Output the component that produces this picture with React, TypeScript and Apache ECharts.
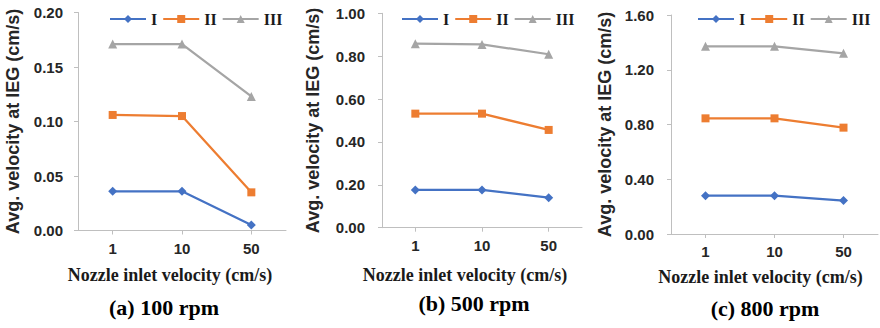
import React, { useEffect, useRef } from "react";
import * as echarts from "echarts";

const categories = ["1", "10", "50"];
const seriesNames = ["I", "II", "III"];

// Panel (a) 100 rpm
const a_I = [0.036, 0.036, 0.005];
const a_II = [0.106, 0.105, 0.035];
const a_III = [0.171, 0.171, 0.123];
// Panel (b) 500 rpm
const b_I = [0.176, 0.176, 0.14];
const b_II = [0.532, 0.532, 0.456];
const b_III = [0.858, 0.855, 0.809];
// Panel (c) 800 rpm
const c_I = [0.28, 0.28, 0.244];
const c_II = [0.845, 0.845, 0.777];
const c_III = [1.371, 1.371, 1.32];

const yMax = [0.2, 1.0, 1.6];
const yInterval = [0.05, 0.2, 0.4];
const captions = ["(a) 100 rpm", "(b) 500 rpm", "(c) 800 rpm"];
const xName = "Nozzle inlet velocity (cm/s)";
const yName = "Avg. velocity at IEG (cm/s)";

const panelData = [
  [a_I, a_II, a_III],
  [b_I, b_II, b_III],
  [c_I, c_II, c_III],
];

const colors = ["#4472C4", "#ED7D31", "#A5A5A5"];
const symbols = ["diamond", "rect", "triangle"];
const symbolSizes = [9, 8, 9];

// layout per panel
const grids = [
  { left: 78, top: 12.5, width: 208, height: 218 },
  { left: 382, top: 13.3, width: 200, height: 214.4 },
  { left: 671, top: 15, width: 207, height: 219 },
];
const yNameGap = [56, 60, 57];
const yLabelMargin = [15, 17, 17];
const xNameGap = [35, 38, 34];
const xNameShift = [12, 17, 14];
const legendLeft = [104, 396, 692];
const captionPos = [
  [164, 307],
  [474, 303],
  [765, 308],
];

const SANS = "'Liberation Sans', Arial, sans-serif";
const SERIF = "'Liberation Serif', 'Times New Roman', serif";

export default function App() {
  const ref = useRef<HTMLDivElement>(null);
  useEffect(() => {
    if (!ref.current) return;
    const chart = echarts.init(ref.current, undefined, { renderer: "svg" });

    const series: any[] = [];
    panelData.forEach((panel, p) => {
      panel.forEach((vals, s) => {
        series.push({
          type: "line",
          name: seriesNames[s],
          xAxisIndex: p,
          yAxisIndex: p,
          data: vals,
          symbol: symbols[s],
          symbolSize: symbolSizes[s],
          showAllSymbol: true,
          lineStyle: { color: colors[s], width: 2.25 },
          itemStyle: { color: colors[s] },
          emphasis: { disabled: true },
        });
      });
    });

    chart.setOption({
      animation: false,
      backgroundColor: "#ffffff",
      grid: grids.map((g) => ({ ...g, containLabel: false })),
      legend: legendLeft.map((l) => ({
        left: l,
        top: 6,
        width: 260,
        orient: "horizontal",
        data: seriesNames,
        itemWidth: 36,
        itemHeight: 10,
        itemGap: 5,
        selectedMode: false,
        textStyle: {
          fontFamily: SERIF,
          fontWeight: "bold",
          fontSize: 16,
          color: "#1a1a1a",
        },
      })),
      xAxis: grids.map((_, p) => ({
        type: "category",
        gridIndex: p,
        data: categories,
        boundaryGap: true,
        name: xName,
        nameLocation: "middle",
        nameGap: xNameGap[p],
        nameTextStyle: {
          fontFamily: SERIF,
          fontWeight: "bold",
          fontSize: 18,
          color: "#1a1a1a",
          padding: [0, xNameShift[p] * 2, 0, 0],
        },
        axisLine: { show: true, lineStyle: { color: "#BFBFBF", width: 1 } },
        axisTick: { show: true, alignWithLabel: true, length: 4, lineStyle: { color: "#BFBFBF" } },
        axisLabel: {
          margin: 10,
          fontFamily: SANS,
          fontWeight: "bold",
          fontSize: 15,
          color: "#262626",
        },
        splitLine: { show: false },
      })),
      yAxis: grids.map((_, p) => ({
        type: "value",
        gridIndex: p,
        min: 0,
        max: yMax[p],
        interval: yInterval[p],
        name: yName,
        nameLocation: "middle",
        nameGap: yNameGap[p],
        nameRotate: 90,
        nameTextStyle: {
          fontFamily: SANS,
          fontWeight: "bold",
          fontSize: 18,
          color: "#262626",
        },
        axisLine: { show: true, lineStyle: { color: "#BFBFBF", width: 1 } },
        axisTick: { show: true, length: 4, lineStyle: { color: "#BFBFBF" } },
        axisLabel: {
          margin: yLabelMargin[p],
          fontFamily: SANS,
          fontWeight: "bold",
          fontSize: 15,
          color: "#262626",
          formatter: (v: number) => v.toFixed(2),
        },
        splitLine: { show: false },
      })),
      graphic: captions.map((c, p) => ({
        type: "text",
        x: captionPos[p][0],
        y: captionPos[p][1],
        style: {
          text: c,
          fontFamily: SERIF,
          fontWeight: "bold",
          fontSize: 22,
          fill: "#000000",
          align: "center",
          verticalAlign: "middle",
        },
      })),
      series,
    });

    return () => chart.dispose();
  }, []);

  return (
    <div
      ref={ref}
      style={{ position: "absolute", left: 0, top: 0, width: 880, height: 328 }}
    />
  );
}
